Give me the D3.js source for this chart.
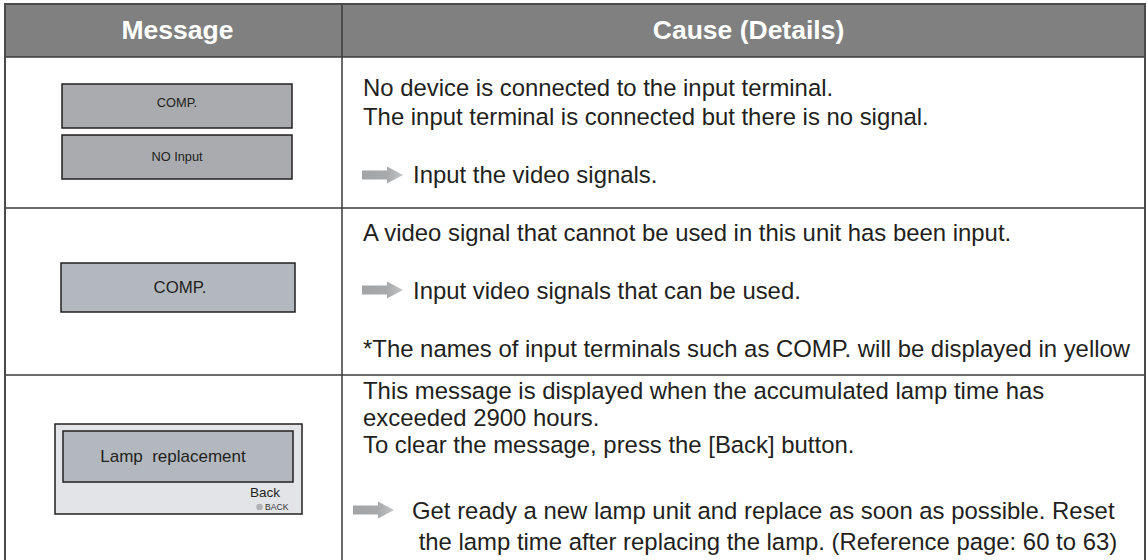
<!DOCTYPE html>
<html>
<head>
<meta charset="utf-8">
<script src="https://cdn.jsdelivr.net/npm/d3@7"></script>
<style>
  html, body { margin: 0; padding: 0; background: #ffffff; overflow: hidden; }
  svg { display: block; }
</style>
</head>
<body>
<svg id="chart" width="1147" height="560"></svg>
<script>
// ---- data ----
const headers = ["Message", "Cause (Details)"];
const rowIds = ["noInput", "invalid", "lamp"];
const messageLabels = [["COMP.", "NO Input"], ["COMP."], ["Lamp  replacement"]];
const backLabels = ["Back", "BACK"];
const causeLines = [
  ["No device is connected to the input terminal.",
   "The input terminal is connected but there is no signal."],
  ["A video signal that cannot be used in this unit has been input."],
  ["This message is displayed when the accumulated lamp time has",
   "exceeded 2900 hours.",
   "To clear the message, press the [Back] button."]
];
const actionLines = [
  ["Input the video signals."],
  ["Input video signals that can be used."],
  ["Get ready a new lamp unit and replace as soon as possible. Reset",
   " the lamp time after replacing the lamp. (Reference page: 60 to 63)"]
];
const noteLines = [[], ["*The names of input terminals such as COMP. will be displayed in yellow"], []];

// ---- layout ----
const L = 5, R = 1145, T = 4, B = 564;
const colDiv = 342;
const headerBottom = 57;
const rowBounds = [57, 208, 375];
const font = "'Liberation Sans', Arial, Helvetica, sans-serif";
const textColor = "#231f20";

const svg = d3.select("#chart");

// header
svg.append("rect").attr("x", L).attr("y", T).attr("width", R - L).attr("height", headerBottom - T)
  .attr("fill", "#7f807f");
svg.selectAll("text.hdr").data(headers).join("text")
  .attr("class", "hdr")
  .attr("x", (d, i) => i === 0 ? (L + colDiv) / 2 + 4 : (colDiv + R) / 2 + 5)
  .attr("y", 39)
  .attr("text-anchor", "middle")
  .attr("font-family", font).attr("font-weight", "bold").attr("font-size", 26.5)
  .attr("fill", "#ffffff")
  .text(d => d);

// grid lines
const gridColor = "#3a3a3a";
svg.selectAll("line.hrow").data(rowBounds).join("line")
  .attr("class", "hrow")
  .attr("x1", L).attr("x2", R).attr("y1", d => d).attr("y2", d => d)
  .attr("stroke", gridColor).attr("stroke-width", 1.5);
svg.append("line").attr("x1", colDiv).attr("x2", colDiv).attr("y1", T).attr("y2", B)
  .attr("stroke", gridColor).attr("stroke-width", 1.5);
svg.append("rect").attr("x", L).attr("y", T).attr("width", R - L).attr("height", B - T)
  .attr("fill", "none").attr("stroke", "#4a4a4a").attr("stroke-width", 2);

// arrow gradient
const defs = svg.append("defs");
const grad = defs.append("linearGradient").attr("id", "arrowGrad")
  .attr("x1", "0%").attr("x2", "100%").attr("y1", "0%").attr("y2", "0%");
grad.append("stop").attr("offset", "0%").attr("stop-color", "#a3a4a6");
grad.append("stop").attr("offset", "60%").attr("stop-color", "#a8a9ab");
grad.append("stop").attr("offset", "100%").attr("stop-color", "#c4c5c7");
const blur = defs.append("filter").attr("id", "soft").attr("x", "-20%").attr("y", "-40%").attr("width", "140%").attr("height", "180%");
blur.append("feGaussianBlur").attr("stdDeviation", 0.6);

function arrow(g, x0, yc) {
  const p = d3.path();
  p.moveTo(x0, yc - 4.5);
  p.lineTo(x0 + 25, yc - 4.5);
  p.lineTo(x0 + 25, yc - 8.5);
  p.lineTo(x0 + 41, yc);
  p.lineTo(x0 + 25, yc + 8.5);
  p.lineTo(x0 + 25, yc + 4.5);
  p.lineTo(x0, yc + 4.5);
  p.closePath();
  g.append("path").attr("d", p.toString()).attr("fill", "url(#arrowGrad)").attr("filter", "url(#soft)");
}

function textLines(g, lines, x0, ys, size) {
  g.selectAll(null).data(lines).join("text")
    .attr("x", x0).attr("y", (d, i) => ys[i])
    .attr("font-family", font).attr("font-size", size).attr("fill", textColor)
    .attr("xml:space", "preserve").style("white-space", "pre")
    .text(d => d);
}

const bodySize = 23.9;
const tx = 363;

// ---- row 1 ----
{
  const g = svg.append("g");
  const boxes = [[84, 128, 107], [135, 179, 161]];
  messageLabels[0].forEach((lbl, i) => {
    g.append("rect").attr("x", 62).attr("y", boxes[i][0]).attr("width", 230).attr("height", boxes[i][1] - boxes[i][0])
      .attr("fill", "#a9abae").attr("stroke", "#231f20").attr("stroke-width", 1.5);
    g.append("text").attr("x", 177).attr("y", boxes[i][2])
      .attr("text-anchor", "middle").attr("font-family", font).attr("font-size", 12.8).attr("fill", textColor)
      .text(lbl);
  });
  textLines(g, causeLines[0], tx, [96, 125], bodySize);
  arrow(g, 362, 175);
  textLines(g, actionLines[0], 413, [183], bodySize);
}

// ---- row 2 ----
{
  const g = svg.append("g");
  g.append("rect").attr("x", 61).attr("y", 263).attr("width", 234).attr("height", 49)
    .attr("fill", "#b3b8bf").attr("stroke", "#231f20").attr("stroke-width", 1.5);
  g.append("text").attr("x", 180).attr("y", 293)
    .attr("text-anchor", "middle").attr("font-family", font).attr("font-size", 16.8).attr("fill", textColor)
    .text(messageLabels[1][0]);
  textLines(g, causeLines[1], tx, [241], bodySize);
  arrow(g, 362, 290);
  textLines(g, actionLines[1], 413, [299], bodySize);
  textLines(g, noteLines[1], tx, [357], bodySize);
}

// ---- row 3 ----
{
  const g = svg.append("g");
  g.append("rect").attr("x", 55).attr("y", 424).attr("width", 247).attr("height", 90)
    .attr("fill", "#e2e4e7").attr("stroke", "#231f20").attr("stroke-width", 1.5);
  g.append("rect").attr("x", 63).attr("y", 431).attr("width", 230).attr("height", 51)
    .attr("fill", "#b3b8bf").attr("stroke", "#231f20").attr("stroke-width", 1.5);
  g.append("text").attr("x", 173).attr("y", 462)
    .attr("text-anchor", "middle").attr("font-family", font).attr("font-size", 17).attr("fill", textColor)
    .attr("xml:space", "preserve").style("white-space", "pre")
    .text(messageLabels[2][0]);
  g.append("text").attr("x", 280).attr("y", 497)
    .attr("text-anchor", "end").attr("font-family", font).attr("font-size", 13.5).attr("fill", textColor)
    .text(backLabels[0]);
  g.append("circle").attr("cx", 259.5).attr("cy", 507).attr("r", 3.3).attr("fill", "#b0b2b5");
  g.append("text").attr("x", 265).attr("y", 510)
    .attr("font-family", font).attr("font-size", 8.6).attr("fill", "#333333")
    .text(backLabels[1]);
  textLines(g, causeLines[2], tx, [399, 426, 453], bodySize);
  arrow(g, 353, 510);
  textLines(g, actionLines[2], 412, [519, 550], bodySize);
}
</script>
</body>
</html>
